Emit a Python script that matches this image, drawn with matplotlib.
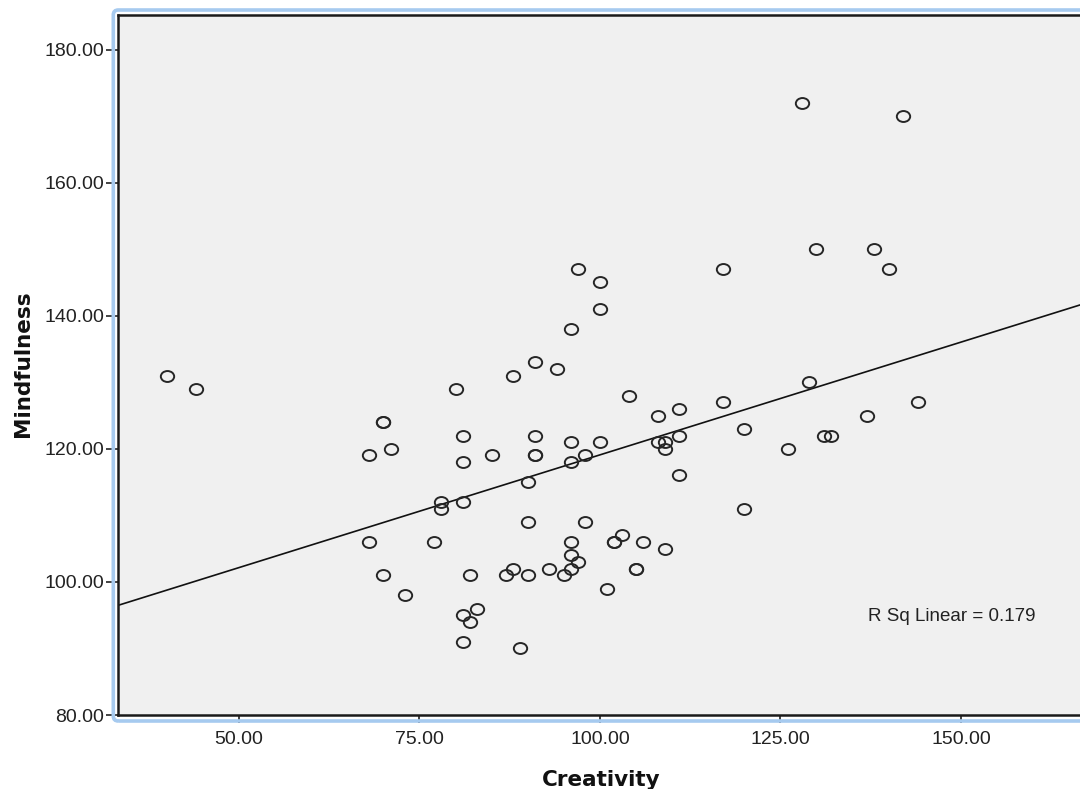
import numpy as np
import matplotlib
matplotlib.use("Agg")
import matplotlib.pyplot as plt
from matplotlib.path import Path
from matplotlib.transforms import Affine2D, IdentityTransform
from matplotlib.patches import FancyBboxPatch

# Creativity (x) and Mindfulness (y) scores
creativity = [40, 44, 70, 70, 68, 71, 78, 78, 68, 77,
              70, 73, 80, 81, 81, 81, 81, 81, 97, 100,
              100, 96, 91, 88, 94, 104, 108, 111, 91, 96,
              100, 85, 91, 91, 98, 96, 108, 109, 109, 111,
              111, 90, 90, 98, 96, 102, 102, 103, 106, 109,
              96, 97, 96, 93, 88, 87, 90, 95, 82, 105,
              105, 101, 83, 82, 89, 128, 142, 130, 138, 140,
              117, 129, 117, 120, 126, 131, 132, 137, 144, 120]
mindfulness = [131, 129, 124, 124, 119, 120, 112, 111, 106, 106,
               101, 98, 129, 122, 118, 112, 95, 91, 147, 145,
               141, 138, 133, 131, 132, 128, 125, 126, 122, 121,
               121, 119, 119, 119, 119, 118, 121, 121, 120, 122,
               116, 115, 109, 109, 106, 106, 106, 107, 106, 105,
               104, 103, 102, 102, 102, 101, 101, 101, 101, 102,
               102, 99, 96, 94, 90, 172, 170, 150, 150, 147,
               147, 130, 127, 123, 120, 122, 122, 125, 127, 111]

x_ticks = [50, 75, 100, 125, 150]
y_ticks = [80, 100, 120, 140, 160, 180]
r_sq_label = "R Sq Linear = 0.179"

x = np.array(creativity, dtype=float)
y = np.array(mindfulness, dtype=float)
slope, intercept = np.polyfit(x, y, 1)

fig = plt.figure(figsize=(10.8, 7.89), dpi=100)
ax = fig.add_axes([118 / 1080, 74 / 789, 962 / 1080, 700 / 789])
ax.set_facecolor("#f0f0f0")

xmin, xmax = 33.25, 166.5
ax.set_xlim(xmin, xmax)
ax.set_ylim(80, 185.2)

# slightly flattened open circles, like the SPSS markers
ellipse = Path.unit_circle().transformed(Affine2D().scale(1.0, 0.82))
ax.plot(x, y, linestyle="none", marker=ellipse, markersize=9.6,
        markerfacecolor="none", markeredgecolor="#262626",
        markeredgewidth=1.4, zorder=3)

xs = np.array([xmin, xmax])
ax.plot(xs, slope * xs + intercept, color="#111111", linewidth=1.2, zorder=2)

ax.text(137.1, 94.8, r_sq_label, ha="left", va="center",
        fontsize=13.5, family="Liberation Sans", color="#222222")

ax.set_xticks(x_ticks)
ax.set_xticklabels([f"{t:.2f}" for t in x_ticks])
ax.set_yticks(y_ticks)
ax.set_yticklabels([f"{t:.2f}" for t in y_ticks])
ax.tick_params(axis="x", direction="out", length=5.5, width=1.2,
               pad=6, labelsize=14, colors="#222222")
ax.tick_params(axis="y", direction="out", length=8.5, width=1.2,
               pad=1.5, labelsize=14, colors="#222222")
for lab in ax.get_xticklabels() + ax.get_yticklabels():
    lab.set_family("Liberation Sans")

for side in ["left", "top", "bottom"]:
    ax.spines[side].set_color("#1a1a1a")
    ax.spines[side].set_linewidth(1.8)
ax.spines["right"].set_visible(False)

fig.text(23 / 1080, 1 - 364 / 789, "Mindfulness", rotation=90,
         ha="center", va="center", fontsize=15.5, fontweight="bold",
         family="DejaVu Sans", color="#111111")
fig.text(601 / 1080, 1 - 786 / 789, "Creativity", ha="center",
         va="baseline", fontsize=15.5, fontweight="bold",
         family="DejaVu Sans", color="#111111")

# light blue selection frame around the chart
frame = FancyBboxPatch((113.3, 68), 1000, 711,
                       boxstyle="round,pad=0,rounding_size=5",
                       transform=IdentityTransform(), fill=False,
                       edgecolor="#a6caef", linewidth=2.6, zorder=5)
fig.patches.append(frame)

fig.savefig("out.png", dpi=100)
